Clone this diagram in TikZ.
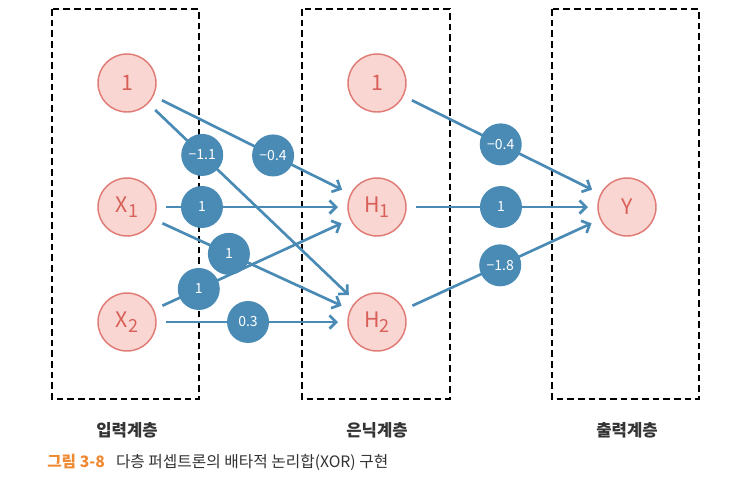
\documentclass[tikz,border=0pt]{standalone}
\usepackage{fontspec}
\setmainfont{Noto Sans CJK KR}
\usetikzlibrary{arrows.meta}
\definecolor{nodepink}{HTML}{F9D6D2}
\definecolor{nodered}{HTML}{E07B76}
\definecolor{textred}{HTML}{D95F59}
\definecolor{wblue}{HTML}{4A8BB6}
\definecolor{caporange}{HTML}{EF8A33}
\definecolor{capgray}{HTML}{333333}
\newcommand\lowsub[1]{\raisebox{-0.4ex}{\fontsize{13.5}{13.5}\selectfont #1}}

\begin{document}
\begin{tikzpicture}[
        x=0.75pt, y=-0.75pt,
        neuron/.style={circle, draw=nodered, line width=1.1pt, fill=nodepink, text=textred,
            minimum size=43.5pt, inner sep=0pt, outer sep=7.5pt, font=\fontsize{16}{18}\selectfont},
        weight/.style={circle, fill=wblue, text=white, minimum size=31.5pt, inner sep=0pt,
            outer sep=0pt, font=\fontsize{10.5}{11}\selectfont},
        link/.style={draw=wblue, line width=2pt, -{Straight Barb[length=5pt,width=10pt]}},
        layerbox/.style={draw=black, line width=1.9pt, dash pattern=on 5pt off 3pt},
        layername/.style={text=capgray, font=\fontsize{12.5}{14}\selectfont\bfseries}
    ]
    \useasboundingbox (0,0) rectangle (740,486);

    % dashed layer boxes
    \draw[layerbox] (52,9) rectangle (199,399);
    \draw[layerbox] (302,9) rectangle (450,399);
    \draw[layerbox] (552,9) rectangle (699,399);

    % neurons
    \node[neuron] (b1) at (127,83) {1};
    \node[neuron] (x1) at (127,207) {X\lowsub{1}};
    \node[neuron] (x2) at (127,322) {X\lowsub{2}};
    \node[neuron] (b2) at (377,83) {1};
    \node[neuron] (h1) at (377,207) {H\lowsub{1}};
    \node[neuron] (h2) at (377,322) {H\lowsub{2}};
    \node[neuron] (y) at (627,207) {Y};

    % weighted connections
    \foreach \from/\to/\p/\w/\name in {b1/h1/0.617/−0.4/wa, b1/h2/0.243/−1.1/wb,
            x1/h1/0.209/1/wc, x1/h2/0.371/1/wd, x2/h1/0.203/1/we, x2/h2/0.477/0.3/wf,
            b2/y/0.493/−0.4/wg, h1/y/0.494/1/wh, h2/y/0.49/−1.8/wi}
        \draw[link] (\from) -- (\to) node[weight, pos=\p] (\name) {\w};

    % layer names and caption
    \node[layername] (lin) at (127,430) {입력계층};
    \node[layername] (lhid) at (377,430) {은닉계층};
    \node[layername] (lout) at (627,430) {출력계층};
    \node[anchor=west, text=capgray, font=\fontsize{11.8}{14}\selectfont, inner sep=0pt] (cap) at (47,462)
        {\textcolor{caporange}{\bfseries 그림 3-8}\hspace{0.7em}다층 퍼셉트론의 배타적 논리합(XOR) 구현};
\end{tikzpicture}
\end{document}
